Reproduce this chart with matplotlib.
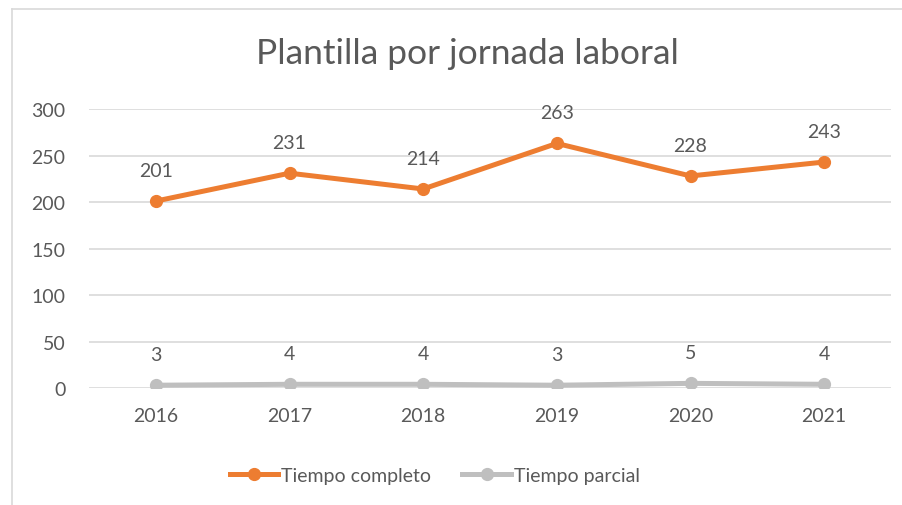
import matplotlib.pyplot as plt
from matplotlib.lines import Line2D

years = ['2016', '2017', '2018', '2019', '2020', '2021']
completo = [201, 231, 214, 263, 228, 243]
parcial = [3, 4, 4, 3, 5, 4]
yticks = [0, 50, 100, 150, 200, 250, 300]

orange = '#ED7D31'
gray = '#BFBFBF'
txt = '#595959'

plt.rcParams['font.family'] = ['Lato', 'DejaVu Sans']

fig = plt.figure(figsize=(9.02, 5.06), dpi=100)
ax = fig.add_axes([0.0987, 0.2312, 0.8891, 0.5514])

x = list(range(len(years)))
ax.plot(x, completo, color=orange, lw=3.6, marker='o', ms=8.5, solid_capstyle='round', zorder=3)
ax.plot(x, parcial, color=gray, lw=3.6, marker='o', ms=8.5, solid_capstyle='round', zorder=3)

for xi, v in zip(x, completo):
    ax.annotate(str(v), (xi, v), xytext=(0, 22), textcoords='offset points',
                ha='center', va='center', fontsize=14, color=txt)
for xi, v in zip(x, parcial):
    ax.annotate(str(v), (xi, v), xytext=(0, 22), textcoords='offset points',
                ha='center', va='center', fontsize=14, color=txt)

ax.set_xlim(-0.5, len(years) - 0.5)
ax.set_ylim(0, 300)
ax.set_yticks(yticks)
ax.set_xticks(x)
ax.set_xticklabels(years)
ax.tick_params(axis='both', length=0, labelsize=14, labelcolor=txt)
ax.tick_params(axis='x', pad=14)
ax.tick_params(axis='y', pad=17)
ax.grid(axis='y', color='#D9D9D9', lw=1.2)
ax.set_axisbelow(True)
for s in ax.spines.values():
    s.set_visible(False)

fig.text(0.518, 0.893, 'Plantilla por jornada laboral', ha='center', va='center',
         fontsize=25.5, color=txt)

handles = [Line2D([], [], color=orange, lw=3.6, marker='o', ms=8.5),
           Line2D([], [], color=gray, lw=3.6, marker='o', ms=8.5)]
fig.legend(handles, ['Tiempo completo', 'Tiempo parcial'], loc='center',
           bbox_to_anchor=(0.482, 0.058), ncol=2, frameon=False, fontsize=14,
           labelcolor=txt, handlelength=2.5, handletextpad=0.15, columnspacing=1.6)

# chart frame (left and top edges only visible)
fig.add_artist(Line2D([0.0135, 0.0135], [0, 0.981], color='#D9D9D9', lw=1.2))
fig.add_artist(Line2D([0.0135, 1.0], [0.981, 0.981], color='#D9D9D9', lw=1.2))

fig.savefig('out.png', dpi=100)
